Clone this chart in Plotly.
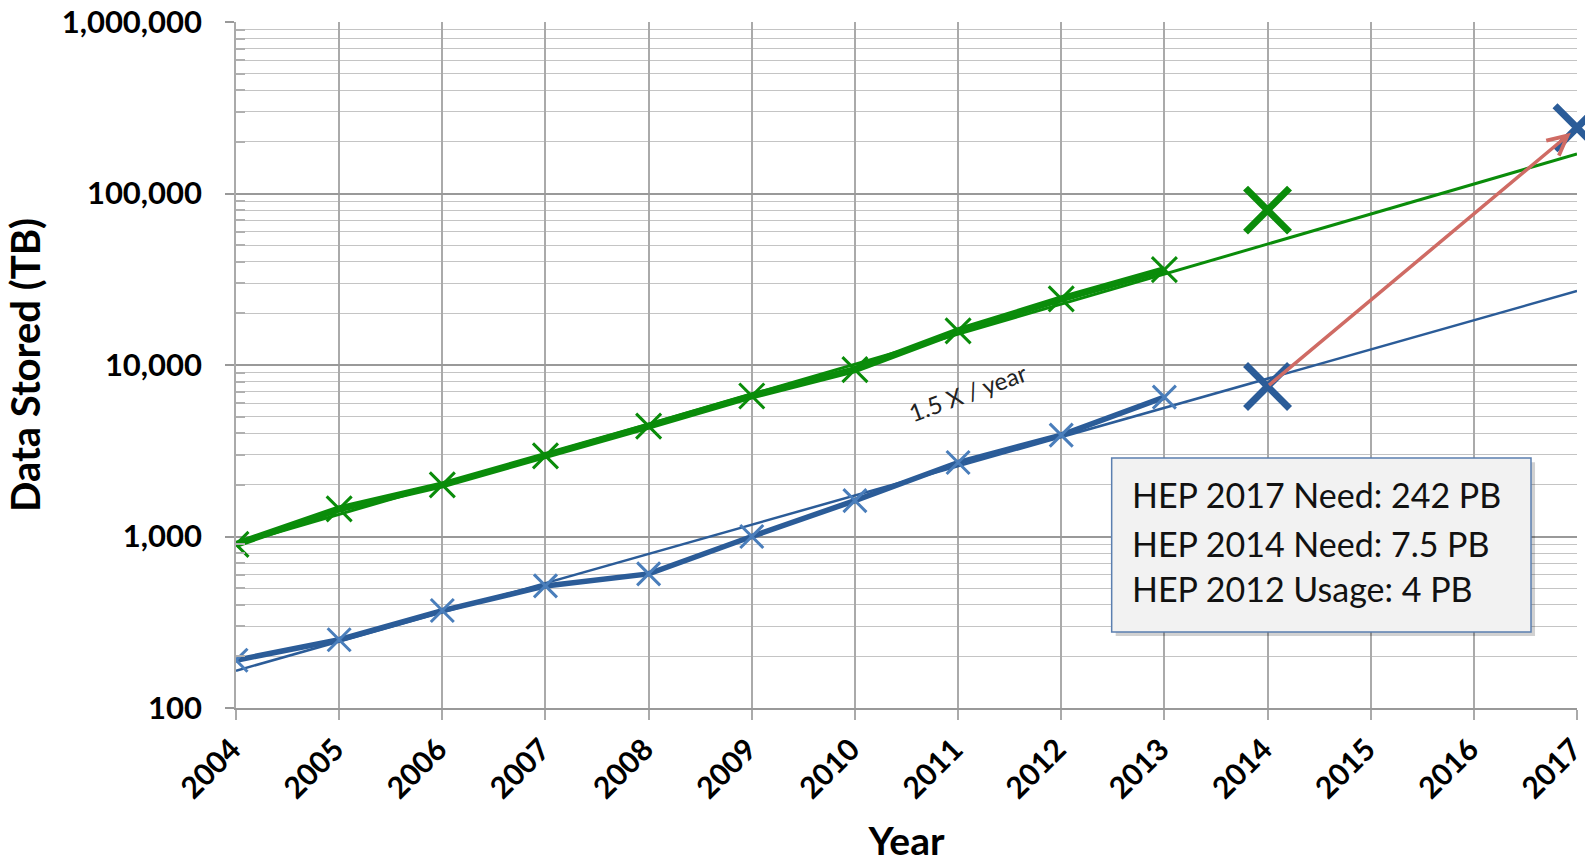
import math
import plotly.graph_objects as go

# ---- data ----
years = [2004, 2005, 2006, 2007, 2008, 2009, 2010, 2011, 2012, 2013]
green_stored = [900, 1450, 2000, 2950, 4400, 6600, 9400, 15800, 24300, 36000]
blue_stored = [190, 250, 370, 515, 605, 1000, 1620, 2700, 3900, 6500]

green_trend_years = [2004, 2017]
green_trend = [900, 170000]
blue_trend_years = [2004, 2017]
blue_trend = [165, 27000]

green_need_year = [2014]
green_need = [80000]
need_years = [2014, 2017]
need_tb = [7500, 242000]

trend_label = "1.5 X / year"
box_lines = ["HEP 2017 Need: 242 PB", "HEP 2014 Need: 7.5 PB", "HEP 2012 Usage: 4 PB"]

x_ticks = list(range(2004, 2018))
y_ticks = [100, 1000, 10000, 100000, 1000000]
y_tick_labels = ["100", "1,000", "10,000", "100,000", "1,000,000"]

# ---- styles ----
GREEN = "#0a8c0a"
BLUE = "#2b5c98"
BLUE_MK = "#4a7ebb"
RED = "#cf6b64"
FONT = "Lato"

fig = go.Figure()

# trend lines
fig.add_trace(go.Scatter(x=green_trend_years, y=green_trend, mode="lines",
                         line=dict(color=GREEN, width=3), hoverinfo="skip"))
fig.add_trace(go.Scatter(x=blue_trend_years, y=blue_trend, mode="lines",
                         line=dict(color=BLUE, width=2.5), hoverinfo="skip"))

# measured series
fig.add_trace(go.Scatter(x=years, y=green_stored, mode="lines+markers",
                         line=dict(color=GREEN, width=7),
                         marker=dict(symbol="x-thin", size=25,
                                     line=dict(color=GREEN, width=3))))
fig.add_trace(go.Scatter(x=years, y=blue_stored, mode="lines+markers",
                         line=dict(color=BLUE, width=5.5),
                         marker=dict(symbol="x-thin", size=23,
                                     line=dict(color=BLUE_MK, width=3))))

# needs (big X)
fig.add_trace(go.Scatter(x=green_need_year, y=green_need, mode="markers",
                         marker=dict(symbol="x-thin", size=44,
                                     line=dict(color=GREEN, width=7)),
                         cliponaxis=False))
fig.add_trace(go.Scatter(x=need_years, y=need_tb, mode="markers",
                         marker=dict(symbol="x-thin", size=44,
                                     line=dict(color=BLUE, width=7)),
                         cliponaxis=False))

minor_vals = [m * 10 ** e for e in range(2, 6) for m in range(2, 10)]

# red arrow from 2014 need to 2017 need
fig.add_annotation(x=need_years[1], y=math.log10(need_tb[1]),
                   ax=need_years[0], ay=math.log10(need_tb[0]),
                   xref="x", yref="y", axref="x", ayref="y",
                   showarrow=True, arrowhead=5, arrowsize=1.1, arrowwidth=3.5,
                   arrowcolor=RED, standoff=8, text="")

# rotated trend label
fig.add_annotation(x=2011.09, y=3.84, xref="x", yref="y", text=trend_label,
                   showarrow=False, textangle=-20,
                   font=dict(family=FONT, size=24, color="#222222"))

# text box with shadow
x0, x1, y0, y1 = 0.653, 0.9657, 0.1108, 0.3644
fig.add_shape(type="rect", xref="paper", yref="paper",
              x0=x0 + 0.003, x1=x1 + 0.003, y0=y0 - 0.006, y1=y1 - 0.006,
              fillcolor="rgba(0,0,0,0.18)", line=dict(width=0), layer="above")
fig.add_shape(type="rect", xref="paper", yref="paper",
              x0=x0, x1=x1, y0=y0, y1=y1,
              fillcolor="#f2f2f2", line=dict(color="#5b7fb0", width=1.5), layer="above")
for txt, yy in zip(box_lines, [0.3105, 0.2405, 0.1735]):
    fig.add_annotation(x=0.6667, y=yy, xref="paper", yref="paper", text=txt,
                       showarrow=False, xanchor="left", yanchor="middle",
                       font=dict(family=FONT, size=34, color="#111111"))

fig.update_layout(
    width=1585, height=863,
    margin=dict(l=236, r=8, t=22, b=155),
    paper_bgcolor="white", plot_bgcolor="white",
    showlegend=False,
    font=dict(family=FONT, color="black"),
)
fig.update_xaxes(
    range=[2004, 2017], tickmode="array", tickvals=x_ticks, automargin=False,
    ticklabeloverflow="allow", ticklabelshift=-4,
    tickangle=-45, tickfont=dict(family=FONT, size=30, color="black", weight="bold"),
    ticks="outside", ticklen=10, tickcolor="#aaaaaa", tickwidth=1.5,
    showgrid=True, gridcolor="#aaaaaa", gridwidth=1.5,
    showline=True, linecolor="#999999", linewidth=1.5,
    zeroline=False,
    title=dict(text="Year", font=dict(family=FONT, size=39, color="black", weight="bold"),
               standoff=32),
)
fig.update_yaxes(
    type="log", range=[2, 6], tickmode="array", tickvals=y_ticks, ticktext=y_tick_labels,
    automargin=False,
    tickfont=dict(family=FONT, size=31, color="black", weight="bold"),
    ticks="outside", ticklen=9, tickcolor="#999999", tickwidth=1.5,
    ticklabelstandoff=17,
    showgrid=True, gridcolor="#999999", gridwidth=1.5,
    showline=True, linecolor="#aaaaaa", linewidth=1.5,
    minor=dict(tickmode="array", tickvals=minor_vals, ticks="inside", ticklen=9,
               tickcolor="#b0b0b0", showgrid=True, gridcolor="#c4c4c4", gridwidth=1.3),
    title=dict(text="Data Stored (TB)", font=dict(family=FONT, size=40, color="black", weight="bold"),
               standoff=9),
)

fig.write_html("out.html", config={"displayModeBar": False},
               post_script="document.body.style.margin='0';")
